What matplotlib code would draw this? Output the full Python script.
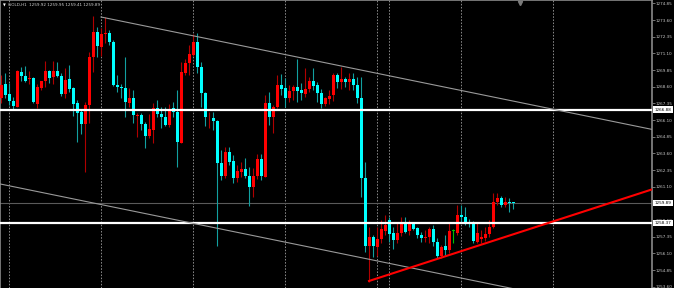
import numpy as np
import matplotlib.pyplot as plt
import matplotlib.transforms as mtransforms

# GOLD H1 candles, oldest first
opens = [1267.76, 1268.81, 1268.06, 1267.53, 1267.08, 1269.71, 1269.41, 1269.18, 1269.26, 1267.31,
         1268.51, 1269.03, 1269.78, 1269.33, 1269.78, 1269.41, 1268.06, 1269.18, 1268.51, 1267.38,
         1266.71, 1265.81, 1267.23, 1270.83, 1272.71, 1271.58, 1272.56, 1272.63, 1271.96, 1268.73,
         1268.58, 1268.51, 1267.38, 1267.76, 1266.41, 1266.48, 1265.81, 1264.91, 1265.36, 1267.01,
         1266.56, 1266.33, 1265.73, 1267.01, 1266.71, 1264.38, 1269.63, 1270.38, 1270.98, 1271.96,
         1270.08, 1268.13, 1266.22, 1266.26, 1266.03, 1262.88, 1261.91, 1263.71, 1263.03, 1261.76,
         1262.21, 1262.43, 1261.91, 1261.08, 1261.91, 1263.18, 1261.83, 1267.38, 1266.33, 1267.08,
         1268.73, 1268.51, 1267.76, 1268.28, 1268.58, 1268.36, 1268.06, 1268.43, 1269.03, 1268.73,
         1268.13, 1267.31, 1267.68, 1267.98, 1269.48, 1268.96, 1269.18, 1268.96, 1269.18, 1268.73,
         1267.76, 1261.76, 1256.66, 1257.33, 1256.58, 1257.18, 1257.78, 1258.61, 1257.63, 1257.11,
         1257.63, 1258.38, 1257.78, 1258.38, 1258.01, 1257.48, 1257.26, 1257.33, 1257.93, 1256.96,
         1255.91, 1256.66, 1256.36, 1257.78, 1257.63, 1258.98, 1258.83, 1258.46, 1258.38, 1256.96,
         1257.18, 1257.26, 1257.56, 1258.08, 1259.96, 1260.26, 1259.73, 1259.96, 1259.92]
highs = [1269.48, 1269.63, 1268.88, 1267.83, 1269.86, 1270.08, 1270.16, 1269.78, 1269.33, 1268.81,
         1269.03, 1270.53, 1269.86, 1270.53, 1270.46, 1269.63, 1270.01, 1270.23, 1268.58, 1267.61,
         1266.86, 1267.46, 1271.21, 1273.91, 1273.08, 1273.01, 1273.83, 1272.86, 1272.11, 1269.48,
         1268.81, 1270.83, 1268.51, 1268.36, 1266.63, 1266.63, 1265.96, 1266.56, 1267.38, 1267.61,
         1267.08, 1267.08, 1267.31, 1267.46, 1268.36, 1270.46, 1270.68, 1271.73, 1272.56, 1272.63,
         1270.46, 1268.21, 1266.71, 1266.71, 1266.11, 1263.86, 1264.08, 1264.08, 1263.48, 1262.73,
         1262.96, 1263.26, 1262.58, 1262.51, 1263.56, 1263.56, 1267.98, 1268.21, 1267.23, 1269.48,
         1269.56, 1269.26, 1268.73, 1268.73, 1270.68, 1268.88, 1270.01, 1269.33, 1270.01, 1268.96,
         1268.43, 1267.83, 1268.36, 1269.63, 1269.63, 1270.08, 1269.33, 1269.63, 1269.63, 1269.33,
         1269.33, 1262.96, 1258.08, 1257.48, 1258.08, 1258.61, 1258.98, 1258.83, 1258.08, 1258.38,
         1258.83, 1258.83, 1258.61, 1258.46, 1258.08, 1257.71, 1257.86, 1258.08, 1258.23, 1257.26,
         1256.73, 1257.48, 1258.38, 1257.93, 1259.73, 1259.73, 1259.58, 1258.68, 1258.53, 1258.38,
         1257.86, 1258.08, 1258.61, 1260.63, 1260.63, 1260.41, 1260.33, 1260.26, 1259.95]
lows = [1267.38, 1267.76, 1267.23, 1266.93, 1267.08, 1269.03, 1268.96, 1268.81, 1267.38, 1267.01,
        1268.36, 1268.58, 1268.88, 1268.81, 1269.33, 1267.91, 1267.76, 1268.21, 1266.41, 1264.46,
        1265.06, 1262.21, 1265.88, 1269.71, 1270.83, 1270.91, 1271.88, 1271.73, 1268.66, 1268.21,
        1267.76, 1266.33, 1267.08, 1265.88, 1264.83, 1265.36, 1264.01, 1264.76, 1264.38, 1266.33,
        1265.51, 1265.66, 1265.58, 1266.33, 1262.58, 1264.38, 1269.48, 1269.48, 1270.91, 1269.63,
        1267.08, 1265.66, 1265.51, 1265.36, 1256.66, 1261.61, 1261.76, 1262.73, 1261.38, 1261.46,
        1261.83, 1261.76, 1259.66, 1260.33, 1261.68, 1261.61, 1261.83, 1265.73, 1265.13, 1267.01,
        1267.98, 1267.08, 1267.46, 1267.61, 1267.46, 1267.61, 1267.83, 1268.21, 1268.36, 1267.46,
        1267.01, 1267.16, 1267.31, 1267.53, 1268.51, 1268.43, 1268.58, 1268.36, 1268.36, 1267.38,
        1260.33, 1256.21, 1253.96, 1255.83, 1255.91, 1256.88, 1257.48, 1256.96, 1256.43, 1256.88,
        1257.41, 1257.63, 1257.48, 1257.86, 1257.26, 1256.96, 1256.96, 1256.88, 1256.66, 1255.76,
        1255.76, 1255.98, 1256.13, 1256.88, 1257.48, 1258.38, 1258.23, 1258.08, 1256.88, 1256.88,
        1256.88, 1257.03, 1257.33, 1258.01, 1259.73, 1259.58, 1259.58, 1259.21, 1259.41]
closes = [1268.73, 1267.98, 1267.53, 1267.16, 1269.78, 1269.41, 1269.03, 1269.26, 1267.46, 1268.58,
          1269.03, 1269.78, 1269.26, 1269.78, 1269.41, 1268.06, 1269.11, 1268.43, 1267.31, 1266.63,
          1265.81, 1267.23, 1270.83, 1272.71, 1271.66, 1272.56, 1272.63, 1271.96, 1268.73, 1268.58,
          1268.51, 1267.46, 1267.76, 1266.48, 1266.48, 1265.81, 1264.91, 1265.43, 1267.01, 1266.56,
          1266.33, 1265.73, 1266.93, 1266.71, 1264.46, 1269.71, 1270.38, 1271.06, 1271.96, 1270.08,
          1268.13, 1266.33, 1266.26, 1266.03, 1262.88, 1261.91, 1263.71, 1262.96, 1261.76, 1262.28,
          1262.43, 1261.91, 1261.08, 1261.91, 1263.18, 1261.91, 1267.38, 1266.33, 1267.08, 1268.73,
          1268.43, 1267.76, 1268.28, 1268.58, 1268.28, 1268.13, 1268.43, 1269.03, 1268.66, 1268.13,
          1267.31, 1267.76, 1267.91, 1269.48, 1268.96, 1269.18, 1268.96, 1269.18, 1268.73, 1267.76,
          1261.76, 1256.66, 1257.33, 1256.66, 1257.18, 1257.93, 1258.23, 1257.56, 1257.11, 1257.63,
          1258.38, 1257.71, 1258.38, 1257.93, 1257.48, 1257.26, 1257.33, 1257.93, 1256.96, 1255.91,
          1256.58, 1256.36, 1257.78, 1257.78, 1258.98, 1258.83, 1258.38, 1258.31, 1257.03, 1257.63,
          1257.33, 1257.56, 1258.08, 1259.96, 1260.26, 1259.73, 1259.96, 1259.88, 1259.89]

# 1259.85 sits under the bid box, so it is not drawn
price_ticks = [1274.85, 1273.60, 1272.35, 1271.10, 1269.85, 1268.60, 1267.35, 1266.10, 1264.85,
               1263.60, 1262.35, 1261.10, 1258.60, 1257.35, 1256.10, 1254.85, 1253.60]
levels = [1266.88, 1258.37]      # white horizontal lines
bid = 1259.89
separators = [2, 25, 48, 71, 94, 97, 115, 138]   # candle index of dotted verticals

# trend lines (candle index, price)
chan_top = [(25, 1273.83), (162.75, 1265.40)]
chan_bot = [(-0.25, 1261.31), (162.75, 1251.33)]
support = [(92, 1254.03), (162.75, 1260.90)]

title = "GOLD,H1  1259.92 1259.95 1259.41 1259.89"

o = np.array(opens); h = np.array(highs); l = np.array(lows); c = np.array(closes)
x = np.arange(len(o))

fig = plt.figure(figsize=(6.74, 2.88), dpi=100, facecolor='black')
ax = fig.add_axes([0, 0, 652 / 674, 1])
ax.set_facecolor('black')
ax.set_xlim(-0.25, 162.75)
ax.set_ylim(1253.505, 1275.105)

# grid separators
for s in separators:
    ax.axvline(s, color='#8a8a8a', lw=0.7, ls=(0, (1.6, 1.6)), zorder=1)

# candles
up = c > o
dn = c < o
eq = c == o
ax.vlines(x[up], l[up], h[up], color='#b00000', lw=0.8, zorder=3)
ax.vlines(x[dn], l[dn], h[dn], color='#12a0a0', lw=0.8, zorder=3)
ax.vlines(x[eq], l[eq], h[eq], color='#00c000', lw=0.8, zorder=3)
body = np.maximum(np.abs(c - o), 0.07)
bottom = np.minimum(o, c)
ax.bar(x[up], body[up], bottom=bottom[up], width=0.75, color='#ff0000', zorder=4, linewidth=0)
ax.bar(x[dn], body[dn], bottom=bottom[dn], width=0.75, color='#00ffff', zorder=4, linewidth=0)
ax.bar(x[eq], body[eq], bottom=bottom[eq], width=0.75, color='#00c000', zorder=4, linewidth=0)

# levels
for lv in levels:
    ax.axhline(lv, color='white', lw=1.6, zorder=5)
ax.axhline(bid, color='#5a5a5a', lw=0.8, zorder=2)

# trend lines
for ln in (chan_top, chan_bot):
    ax.plot([ln[0][0], ln[1][0]], [ln[0][1], ln[1][1]], color='#9a9a9a', lw=0.8, zorder=6)
ax.plot([support[0][0], support[1][0]], [support[0][1], support[1][1]], color='#ff0000', lw=1.5, zorder=6)

# frame
for side in ['top', 'left', 'right']:
    ax.spines[side].set_color('#8a8a8a')
    ax.spines[side].set_linewidth(1.2)
ax.spines['bottom'].set_visible(False)
ax.set_xticks([])
ax.yaxis.tick_right()
ax.set_yticks(price_ticks)
ax.set_yticklabels(['%.2f' % t for t in price_ticks])
ax.tick_params(axis='y', colors='#8a8a8a', labelcolor='#c8c8c8', length=2, width=0.6,
               labelsize=3.0, pad=0.8)

# price boxes on the axis
trans = mtransforms.blended_transform_factory(ax.transAxes, ax.transData)
for lv in levels + [bid]:
    ax.text(1.004, lv, '%.2f' % lv, transform=trans, ha='left', va='center', fontsize=3.0,
            color='black', clip_on=False, zorder=10,
            bbox=dict(boxstyle='square,pad=0.3', fc='white', ec='none'))

# header
ax.text(0.005, 0.982, '\u25bc', transform=ax.transAxes, fontsize=2.6, color='white', va='center')
ax.text(0.013, 0.982, title, transform=ax.transAxes, fontsize=3.0, color='#d0d0d0', va='center')
ax.plot([0.798], [0.99], marker='v', ms=3, color='#7a7a7a', transform=ax.transAxes, clip_on=False)

fig.savefig('out.png', dpi=100, facecolor='black')
